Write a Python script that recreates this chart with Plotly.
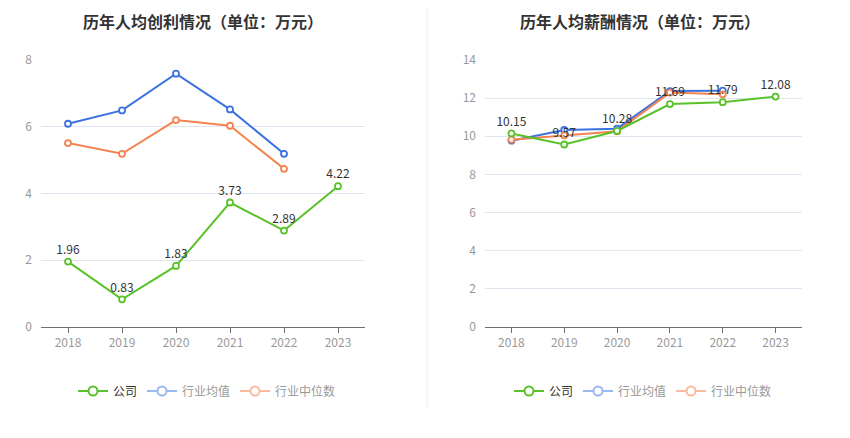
import plotly.graph_objects as go

years = ["2018", "2019", "2020", "2021", "2022", "2023"]

profit_company = [1.96, 0.83, 1.83, 3.73, 2.89, 4.22]
profit_mean = [6.09, 6.49, 7.59, 6.52, 5.19]
profit_median = [5.51, 5.19, 6.20, 6.03, 4.74]

salary_company = [10.15, 9.57, 10.28, 11.69, 11.79, 12.08]
salary_mean = [9.77, 10.33, 10.40, 12.37, 12.39]
salary_median = [9.82, 10.05, 10.26, 12.29, 12.20]

GREEN = "#5ac229"
BLUE = "#3b72e0"
ORANGE = "#f5834f"
BLUE_L = "#9ab9f2"
ORANGE_L = "#f9bba0"
FONT = "Noto Sans CJK SC"

# page has an 8px body margin; figure sized so page is exactly 850x438
W, H = 834, 422
OFF = 8


def px(x):
    return (x - OFF) / W


def py(y):
    return 1 - (y - OFF) / H


fig = go.Figure()


def add_series(x, y, color, xa, ya, labels=False):
    fig.add_trace(go.Scatter(
        x=x, y=y, xaxis=xa, yaxis=ya,
        mode="lines+markers+text" if labels else "lines+markers",
        line=dict(color=color, width=2),
        marker=dict(size=6, color="white", line=dict(color=color, width=1.8)),
        text=[f"{v:.2f}" for v in y] if labels else None,
        textposition="top center",
        textfont=dict(size=12, color="#333333", family=FONT),
        showlegend=False, hoverinfo="x+y", cliponaxis=False,
    ))


# left chart
add_series(years[:5], profit_mean, BLUE, "x", "y")
add_series(years[:5], profit_median, ORANGE, "x", "y")
add_series(years, profit_company, GREEN, "x", "y", labels=True)
# right chart
add_series(years[:5], salary_mean, BLUE, "x2", "y2")
add_series(years[:5], salary_median, ORANGE, "x2", "y2")
add_series(years, salary_company, GREEN, "x2", "y2", labels=True)

legend_items = [
    ("公司", GREEN, "#333333"),
    ("行业均值", BLUE_L, "#999999"),
    ("行业中位数", ORANGE_L, "#999999"),
]
for lg in ["legend", "legend2"]:
    for name, col, tcol in legend_items:
        fig.add_trace(go.Scatter(
            x=[None], y=[None], mode="lines+markers",
            name=f"<span style='color:{tcol}'>{name}</span>",
            line=dict(color=col, width=2),
            marker=dict(size=9, color="white", line=dict(color=col, width=2)),
            legend=lg, showlegend=True,
            xaxis="x" if lg == "legend" else "x2",
            yaxis="y" if lg == "legend" else "y2",
        ))

ytop = py(60)
ybot = py(327)

xcommon = dict(type="category", range=[-0.5, 5.5], showline=True, linecolor="#6e7079",
               linewidth=1, ticks="outside", ticklen=5, tickcolor="#6e7079",
               tickfont=dict(size=12, color="#999999", family=FONT), showgrid=False,
               zeroline=False, fixedrange=True)
ycommon = dict(showgrid=True, gridcolor="#e0e6f1", gridwidth=1, zeroline=False,
               showline=False, tickfont=dict(size=12, color="#999999", family=FONT),
               ticks="", ticklabelstandoff=8, fixedrange=True)

fig.update_layout(
    width=W, height=H,
    margin=dict(l=0, r=0, t=0, b=0, pad=0, autoexpand=False),
    paper_bgcolor="white", plot_bgcolor="white",
    font=dict(family=FONT),
    xaxis=dict(domain=[px(41), px(365)], anchor="y", **xcommon),
    yaxis=dict(domain=[ybot, ytop], anchor="x", range=[0, 8], dtick=2, **ycommon),
    xaxis2=dict(domain=[px(485), px(802)], anchor="y2", **xcommon),
    yaxis2=dict(domain=[ybot, ytop], anchor="x2", range=[0, 14], dtick=2, **ycommon),
    legend=dict(orientation="h", x=px(207), y=py(391), xanchor="center", yanchor="middle",
                font=dict(size=12, family=FONT), itemwidth=30, bgcolor="rgba(0,0,0,0)"),
    legend2=dict(orientation="h", x=px(643), y=py(391), xanchor="center", yanchor="middle",
                 font=dict(size=12, family=FONT), itemwidth=30, bgcolor="rgba(0,0,0,0)"),
    annotations=[
        dict(text="<b>历年人均创利情况（单位：万元）</b>", x=px(203), y=py(21),
             xref="paper", yref="paper", showarrow=False, xanchor="center", yanchor="middle",
             font=dict(size=16, color="#333333", family=FONT)),
        dict(text="<b>历年人均薪酬情况（单位：万元）</b>", x=px(640), y=py(21),
             xref="paper", yref="paper", showarrow=False, xanchor="center", yanchor="middle",
             font=dict(size=16, color="#333333", family=FONT)),
    ],
    shapes=[dict(type="line", xref="paper", yref="paper", x0=px(427), x1=px(427),
                 y0=py(8), y1=py(408), line=dict(color="#eeeeee", width=1))],
)

fig.write_html("out.html")
